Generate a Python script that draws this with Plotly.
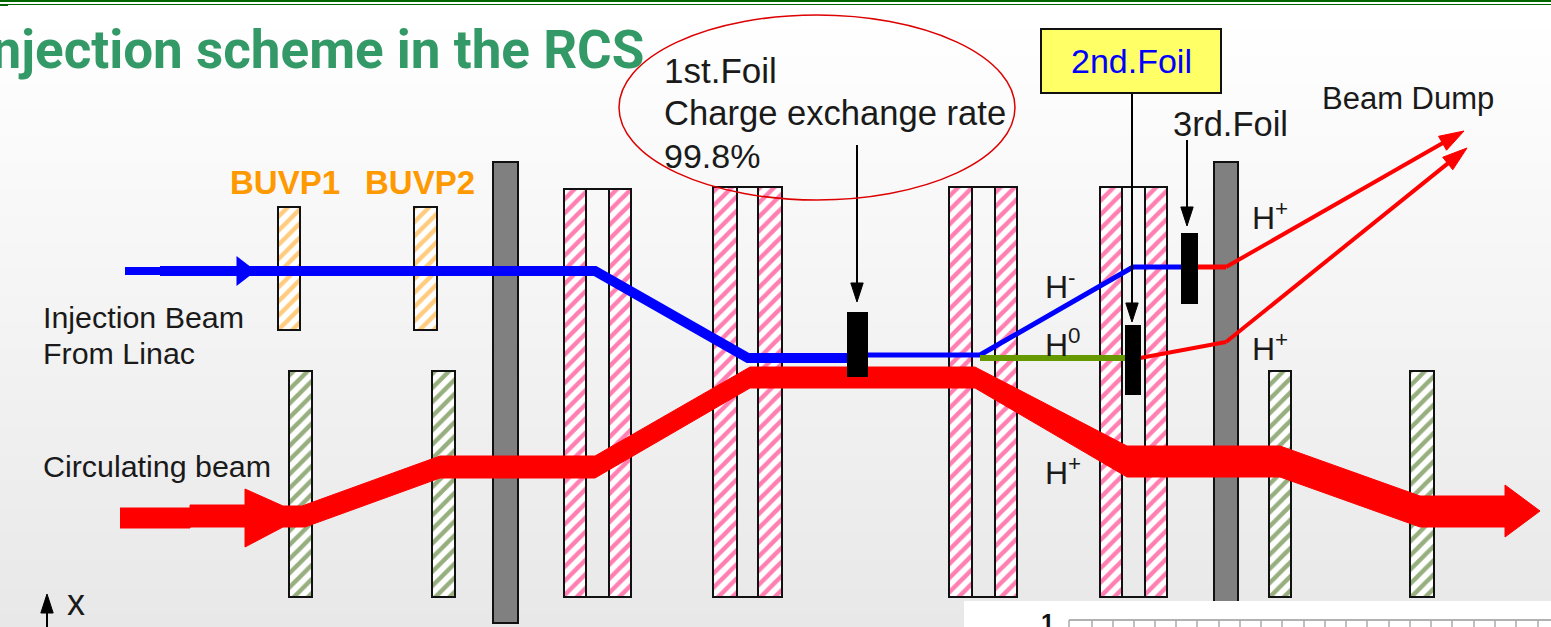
import plotly.graph_objects as go

FONT = 'Liberation Sans'

# background shading, top to bottom
bg_y = [15, 627]
bg_level = [0, 1]

# hatched and solid elements: left edge, right edge, top, bottom
pink_left = [564, 609, 713, 758, 949, 995, 1100, 1145]
pink_right = [586, 631, 737, 782, 972, 1017, 1122, 1167]
pink_top = [189, 189, 187, 187, 187, 187, 187, 187]
pink_bottom = [597, 597, 597, 597, 597, 597, 597, 597]

frame_left = [564, 713, 949, 1100]
frame_right = [631, 782, 1017, 1167]
frame_top = [189, 187, 187, 187]
frame_bottom = [597, 597, 597, 597]

orange_left = [278, 414]
orange_right = [300, 437]
orange_top = [207, 207]
orange_bottom = [330, 330]

green_left = [289, 432, 1269, 1410]
green_right = [312, 455, 1291, 1434]
green_top = [371, 371, 371, 371]
green_bottom = [597, 597, 597, 597]

grey_left = [493, 1214]
grey_right = [518, 1238]
grey_top = [162, 162]
grey_bottom = [623, 623]

foil_left = [848, 1126, 1182]
foil_right = [867, 1140, 1197]
foil_top = [313, 326, 234]
foil_bottom = [376, 394, 303]

# beams
blue_x = [160, 595, 748, 848]
blue_y = [271, 271, 358, 358]
blue_in_x = [125, 160]
blue_in_y = [271, 271]
blue_thin_x = [867, 980, 1133, 1182]
blue_thin_y = [355, 355, 267, 267]
neutral_x = [980, 1126]
neutral_y = [358, 358]
red_upper_x = [1197, 1226]
red_upper_y = [267, 267]
red_lower_x = [1140, 1226]
red_lower_y = [358, 342]

main_x = [120, 190, 190, 245, 245, 283, 302, 440, 595, 750, 975, 1127, 1280, 1420, 1505, 1505, 1540,
          1505, 1505, 1420, 1280, 1127, 975, 750, 595, 440, 305, 283, 245, 245, 190, 190, 120]
main_y = [508, 508, 505, 505, 489, 506, 506, 456, 456, 367, 367, 446, 446, 496, 496, 485, 511,
          537, 527, 527, 477, 477, 388, 388, 478, 478, 527, 527, 547, 527, 527, 528, 528]

inset_x = [964, 1551, 1551, 964, 964]
inset_y = [601, 601, 627, 627, 601]
inset_ticks = [1069, 1092, 1113, 1134, 1155, 1176, 1197, 1219, 1240, 1261, 1282, 1304,
               1325, 1346, 1367, 1389, 1410, 1431, 1452, 1474, 1495, 1516, 1538]

labels = ['1st.Foil', 'Charge exchange rate', '99.8%', '3rd.Foil', 'Beam Dump',
          'Injection Beam', 'From Linac', 'Circulating beam', 'x',
          'H<sup>-</sup>', 'H<sup>0</sup>', 'H<sup>+</sup>', 'H<sup>+</sup>', 'H<sup>+</sup>']
label_x = [662, 662, 662, 1171, 1320, 41, 41, 41, 65, 1043, 1043, 1043, 1250, 1250]
label_y = [70, 113, 156, 124, 98, 317, 353, 466, 602, 285, 343, 471, 216, 347]
label_size = [35, 34.6, 34, 34.5, 31, 30.4, 30.4, 30.4, 36, 32, 32, 32, 32, 32]

# arrows: tail then tip
arrow_tail_x = [857, 1132, 1187, 47, 1226, 1226]
arrow_tail_y = [145, 93, 140, 627, 267, 342]
arrow_head_x = [857, 1132, 1187, 47, 1464, 1467]
arrow_head_y = [302, 322, 226, 594, 131, 148]
arrow_color = ['#000000', '#000000', '#000000', '#000000', '#ff0000', '#ff0000']
arrow_width = [2, 2, 2, 2, 4, 4]

blue_head_x = [243]
blue_head_y = [271]


def bars(left, right, top, bottom, color, line_color='#111111', pattern=None):
    return go.Bar(
        x=[(a + b) / 2 for a, b in zip(left, right)],
        y=[b - t for t, b in zip(top, bottom)],
        base=top,
        width=[b - a for a, b in zip(left, right)],
        marker=dict(color=color, line=dict(color=line_color, width=2), pattern=pattern),
        hoverinfo='skip',
    )


def hatch(color):
    return dict(shape='/', fgcolor=color, bgcolor='white', size=10, solidity=0.45)


def beam(x, y, color, width):
    return go.Scatter(x=x, y=y, mode='lines', line=dict(color=color, width=width), hoverinfo='skip')


fig = go.Figure()

fig.add_trace(go.Heatmap(x=[8, 1551], y=bg_y, z=[[bg_level[0], bg_level[0]], [bg_level[1], bg_level[1]]],
                         zsmooth='best', showscale=False, hoverinfo='skip',
                         colorscale=[[0, '#ffffff'], [1, '#e8e8e8']]))

fig.add_trace(bars(frame_left, frame_right, frame_top, frame_bottom, 'rgba(0,0,0,0)'))
fig.add_trace(bars(pink_left, pink_right, pink_top, pink_bottom, '#ff0066', pattern=hatch('#ff0066')))
fig.add_trace(bars(orange_left, orange_right, orange_top, orange_bottom, '#ff9900', pattern=hatch('#ff9900')))
fig.add_trace(bars(green_left, green_right, green_top, green_bottom, '#2f6000', pattern=hatch('#2f6000')))
fig.add_trace(bars(grey_left, grey_right, grey_top, grey_bottom, '#808080'))

fig.add_trace(beam(blue_in_x, blue_in_y, '#0000ff', 8))
fig.add_trace(beam(blue_x, blue_y, '#0000ff', 10))
fig.add_trace(go.Scatter(x=blue_head_x, y=blue_head_y, mode='markers', hoverinfo='skip',
                         marker=dict(symbol='triangle-right', size=26, color='#0000ff')))
fig.add_trace(beam(blue_thin_x, blue_thin_y, '#0000ff', 5))
fig.add_trace(beam(neutral_x, neutral_y, '#669900', 6))
fig.add_trace(beam(red_upper_x, red_upper_y, '#ff0000', 5))
fig.add_trace(beam(red_lower_x, red_lower_y, '#ff0000', 4))
fig.add_trace(go.Scatter(x=main_x, y=main_y, mode='lines', fill='toself', fillcolor='#ff0000',
                         line=dict(color='#ff0000', width=1), hoverinfo='skip'))

# bars sit below every scatter on one subplot, so the foils get their own overlaid axes
foils = bars(foil_left, foil_right, foil_top, foil_bottom, '#000000', line_color='#000000')
foils.update(xaxis='x2', yaxis='y2')
fig.add_trace(foils)

for tx, ty, hx, hy, c, w in zip(arrow_tail_x, arrow_tail_y, arrow_head_x, arrow_head_y, arrow_color, arrow_width):
    fig.add_trace(go.Scatter(x=[tx, hx], y=[ty, hy], mode='lines+markers', hoverinfo='skip',
                             line=dict(color=c, width=w),
                             marker=dict(symbol='arrow', angleref='previous', size=[0, 20 if w == 2 else 26],
                                         color=c, opacity=1, line=dict(color=c, width=1))))

fig.add_trace(go.Scatter(x=inset_x, y=inset_y, mode='lines', fill='toself', fillcolor='white',
                         line=dict(color='white', width=0), hoverinfo='skip'))
fig.add_trace(go.Scatter(x=[inset_ticks[0], 1551], y=[620, 620], mode='lines',
                         line=dict(color='#999999', width=1.5), hoverinfo='skip'))
for t in inset_ticks:
    fig.add_trace(go.Scatter(x=[t, t], y=[620, 627], mode='lines',
                             line=dict(color='#aaaaaa', width=1.5), hoverinfo='skip'))

annotations = []
for text, x, y, size in zip(labels, label_x, label_y, label_size):
    annotations.append(dict(x=x, y=y, text=text, showarrow=False, xanchor='left', yanchor='middle',
                            font=dict(family=FONT, size=size, color='#1a1a1a')))
annotations.extend([
    dict(x=646, y=50, text='<b>Injection scheme in the RCS</b>', showarrow=False, xanchor='right', yanchor='middle',
         font=dict(family='Roboto', size=53, color='#339966')),
    dict(x=228, y=182, text='<b>BUVP1</b>', showarrow=False, xanchor='left', yanchor='middle',
         font=dict(family=FONT, size=33, color='#ff9900')),
    dict(x=363, y=182, text='<b>BUVP2</b>', showarrow=False, xanchor='left', yanchor='middle',
         font=dict(family=FONT, size=33, color='#ff9900')),
    dict(x=1131, y=61, text='2nd.Foil', showarrow=False, xanchor='center', yanchor='middle',
         font=dict(family=FONT, size=34, color='#0000ff')),
    dict(x=1047, y=607, text='<b>1</b>', showarrow=False, xanchor='center', yanchor='top',
         font=dict(family=FONT, size=24, color='#111111')),
])

shapes = [
    dict(type='circle', x0=619, x1=1015, y0=15, y1=200, line=dict(color='#dd0000', width=1.5)),
    dict(type='rect', x0=1041, x1=1221, y0=29, y1=93, fillcolor='#ffff66', line=dict(color='#111111', width=2)),
    dict(type='line', x0=0, x1=1551, y0=1, y1=1, line=dict(color='#006600', width=2)),
    dict(type='line', x0=0, x1=1551, y0=4.5, y1=4.5, line=dict(color='#006600', width=1)),
    dict(type='line', x0=0, x1=8, y0=5.5, y1=5.5, line=dict(color='#006600', width=1)),
]

fig.update_layout(
    width=1551, height=627,
    margin=dict(l=0, r=0, t=0, b=0),
    plot_bgcolor='white', paper_bgcolor='white',
    barmode='overlay', bargap=0,
    showlegend=False,
    annotations=annotations, shapes=shapes,
    xaxis=dict(range=[0, 1551], visible=False, fixedrange=True),
    yaxis=dict(range=[627, 0], visible=False, fixedrange=True),
    xaxis2=dict(range=[0, 1551], visible=False, fixedrange=True, overlaying='x'),
    yaxis2=dict(range=[627, 0], visible=False, fixedrange=True, overlaying='y'),
)

# the page's default body margin would shift the drawing by 8px
fig.write_html("out.html", config=dict(displayModeBar=False),
               post_script="document.body.style.margin='0';document.body.style.overflow='hidden';")
